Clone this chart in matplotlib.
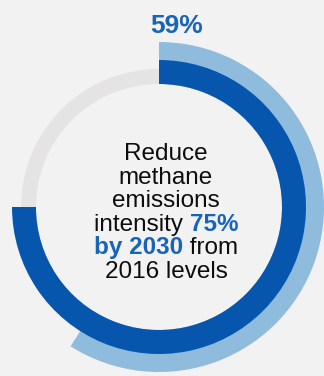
import matplotlib.pyplot as plt

# methane intensity target vs progress so far (percent reduction)
target_pct = 75
achieved_pct = 59
achieved_label = '59%'

text_lines = [
    [('Reduce', 'k', 'normal')],
    [('methane', 'k', 'normal')],
    [('emissions', 'k', 'normal')],
    [('intensity ', 'k', 'normal'), ('75%', 'blue', 'bold')],
    [('by 2030', 'blue', 'bold'), (' from', 'k', 'normal')],
    [('2016 levels', 'k', 'normal')],
]

bg = '#f2f2f2'
dark_blue = '#0656ad'
light_blue = '#8fbbdc'
track_grey = '#e5e3e4'
text_blue = '#1764b9'

W, H = 324, 376
cx, cy = 159, H - 207

plt.rcParams['font.family'] = ['Liberation Sans', 'DejaVu Sans']

fig = plt.figure(figsize=(W / 100, H / 100), dpi=100, facecolor=bg)
ax = fig.add_axes([0, 0, 1, 1])
ax.set_facecolor(bg)

# grey background track
ax.pie([1], colors=[track_grey], radius=138, center=(cx, cy),
       wedgeprops=dict(width=15, linewidth=0))
# light arc: achieved so far
ax.pie([achieved_pct, 100 - achieved_pct], colors=[light_blue, 'none'],
       radius=165, center=(cx, cy), startangle=90, counterclock=False,
       wedgeprops=dict(width=42, linewidth=0))
# dark arc: 2030 target
ax.pie([target_pct, 100 - target_pct], colors=[dark_blue, 'none'],
       radius=147, center=(cx, cy), startangle=90, counterclock=False,
       wedgeprops=dict(width=24, linewidth=0))

ax.set_xlim(0, W)
ax.set_ylim(0, H)
ax.set_aspect('equal')
ax.axis('off')

ax.text(177, H - 33, achieved_label, color=text_blue, fontsize=19,
        fontweight='bold', ha='center', va='baseline')

# centre text, mixed colours per line
renderer = fig.canvas.get_renderer()
baselines = [160, 184, 207, 231, 254, 278]
text_cx = 166
for line, base in zip(text_lines, baselines):
    pieces = []
    for s, col, wt in line:
        c = text_blue if col == 'blue' else '#0d0d0d'
        t = ax.text(0, H - base, s, color=c, fontsize=17.5, fontweight=wt,
                    ha='left', va='baseline')
        pieces.append(t)
    widths = []
    for t in pieces:
        bb = t.get_window_extent(renderer)
        widths.append(bb.width)
    x = text_cx - sum(widths) / 2
    for t, w in zip(pieces, widths):
        t.set_x(x)
        x += w

fig.savefig('out.png', dpi=100, facecolor=bg)
